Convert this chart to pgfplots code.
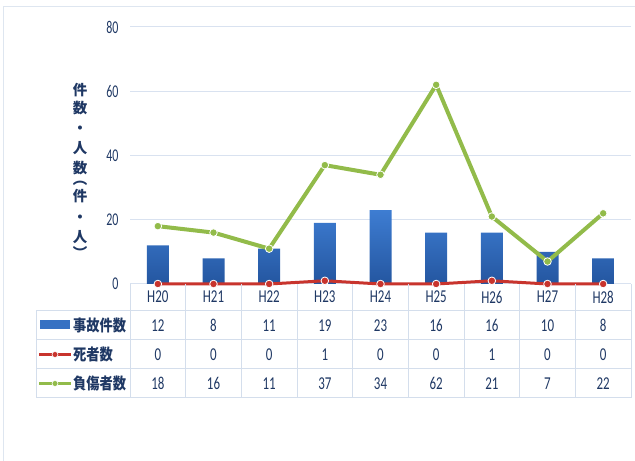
\documentclass[border=0pt]{standalone}
\usepackage{pgfplots}
\pgfplotsset{compat=1.18}
\usepackage{graphicx}
\usepackage{fontspec}
\setmainfont{Carlito}
\newfontfamily\jp{Noto Sans CJK JP}
\definecolor{txt}{RGB}{31,56,100}
\definecolor{gridc}{RGB}{217,226,240}
\definecolor{tabc}{RGB}{212,222,236}
\definecolor{framec}{RGB}{222,230,240}
\definecolor{bartop}{RGB}{62,125,210}
\definecolor{barbot}{RGB}{36,86,160}
\definecolor{redc}{RGB}{200,52,45}
\definecolor{greenc}{RGB}{146,187,74}
\newcommand\num[1]{\scalebox{1}[1.4]{\fontsize{13}{13}\selectfont #1}}
\newcommand\jt[1]{\scalebox{1}[1.2]{\fontsize{13.3}{14}\selectfont\jp\bfseries #1}}
\begin{document}
\begin{tikzpicture}[x=1bp,y=1bp]
\path[use as bounding box] (0,0) rectangle (635,461);
\draw[framec, line width=1bp] (3,0) -- (3,454) -- (635,454);
\begin{axis}[at={(130bp,177bp)}, anchor=south west, scale only axis,
  width=501bp, height=257bp,
  xmin=-0.5, xmax=8.5, ymin=0, ymax=80,
  ytick={0,20,40,60,80}, xtick=\empty,
  axis line style={draw=none},
  ymajorgrids, grid style={draw=gridc, line width=1bp},
  major tick length=0pt,
  /pgf/number format/assume math mode=true,
  yticklabel style={font=\fontsize{12}{12}\selectfont, text=txt, anchor=east, xshift=-8bp},
  yticklabel={\scalebox{1}[1.5]{\pgfmathprintnumber{\tick}}},
  clip=false]
\addplot[ybar, bar width=22bp, draw=none, top color=bartop, bottom color=barbot]
  coordinates {(0,12) (1,8) (2,11) (3,19) (4,23) (5,16) (6,16) (7,10) (8,8)};
\addplot[redc, line width=3bp, line join=round, mark=*, mark size=3.8bp,
  mark options={fill=redc, draw=white, line width=0.8bp}]
  coordinates {(0,0) (1,0) (2,0) (3,1) (4,0) (5,0) (6,1) (7,0) (8,0)};
\addplot[greenc, line width=4bp, line join=round, mark=*, mark size=3.8bp,
  mark options={fill=greenc, draw=white, line width=0.8bp}]
  coordinates {(0,18) (1,16) (2,11) (3,37) (4,34) (5,62) (6,21) (7,7) (8,22)};
\end{axis}
% table grid
\begin{scope}[tabc, line width=1bp]
\draw (36,150) -- (631,150);
\draw (36,121) -- (631,121);
\draw (36,92) -- (631,92);
\draw (36,63) -- (631,63);
\draw (36,150) -- (36,63);
\foreach \k in {0,...,9} \draw ({130+55.67*\k},177) -- ({130+55.67*\k},63);
\end{scope}
% header row and values
\foreach \t [count=\i from 0] in {H20,H21,H22,H23,H24,H25,H26,H27,H28}
  \node[text=txt] at ({157.83+55.67*\i},164) {\num{\t}};
\foreach \t [count=\i from 0] in {12,8,11,19,23,16,16,10,8}
  \node[text=txt] at ({157.83+55.67*\i},135.5) {\num{\t}};
\foreach \t [count=\i from 0] in {0,0,0,1,0,0,1,0,0}
  \node[text=txt] at ({157.83+55.67*\i},106.5) {\num{\t}};
\foreach \t [count=\i from 0] in {18,16,11,37,34,62,21,7,22}
  \node[text=txt] at ({157.83+55.67*\i},77.5) {\num{\t}};
% legend keys
\fill[bartop!70!barbot] (40,132) rectangle (70,141);
\draw[redc, line width=3.5bp] (39,106.5) -- (71,106.5);
\fill[redc, draw=white, line width=0.6bp] (55,106.5) circle (3bp);
\draw[greenc, line width=3.5bp] (39,77.5) -- (71,77.5);
\fill[greenc, draw=white, line width=0.6bp] (55,77.5) circle (3bp);
\node[anchor=west, text=txt, inner sep=0pt] at (73,135.5) {\jt{事故件数}};
\node[anchor=west, text=txt, inner sep=0pt] at (73,106.5) {\jt{死者数}};
\node[anchor=west, text=txt, inner sep=0pt] at (73,77.5) {\jt{負傷者数}};
% y label (vertical)
\node[text=txt, inner sep=0pt, align=center, anchor=base,
  font=\fontsize{14.5}{20}\selectfont\jp\bfseries] at (80,202.5)
  {件\\[-2bp]数\\・\\人\\数\\[-9bp]︵\\[-3bp]件\\[1bp]・\\人\\[-3.5bp]︶};
\end{tikzpicture}
\end{document}
